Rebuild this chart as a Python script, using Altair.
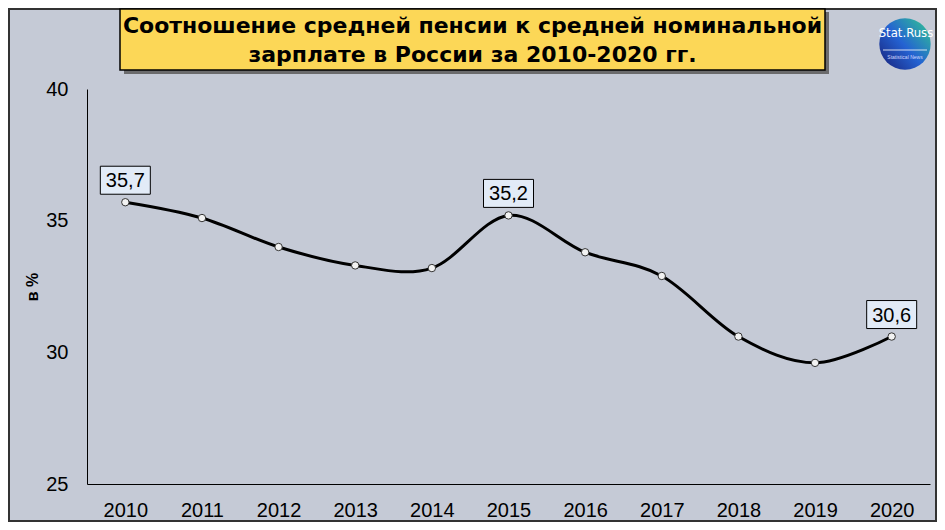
import altair as alt
import pandas as pd

# ---- data ----
years = [2010, 2011, 2012, 2013, 2014, 2015, 2016, 2017, 2018, 2019, 2020]
ratio = [35.7, 35.1, 34.0, 33.3, 33.2, 35.2, 33.8, 32.9, 30.6, 29.6, 30.6]
label_years = [2010, 2015, 2020]
y_ticks = [25, 30, 35, 40]
y_domain = [25, 40]
title_lines = ["Соотношение средней пенсии к средней номинальной",
               "зарплате в России за 2010-2020 гг."]
y_title = "в %"
logo_text = "Stat.Russ"
logo_sub = "Statistical    News"

df = pd.DataFrame({"year": [str(y) for y in years], "value": ratio})
df["label"] = [f"{v:.1f}".replace(".", ",") if y in label_years else "" for y, v in zip(years, ratio)]
lab = df[df["label"] != ""]
dummy = pd.DataFrame({"k": [0]})

FONT = "Liberation Sans"
BG = "#c5cad6"
W, H = 843, 395
PL, PT = 79, 81
TW, TH = 929, 514

x = alt.X("year:O", scale=alt.Scale(type="point", padding=0.5),
          axis=alt.Axis(title=None, labelAngle=0, labelFontSize=20, labelFont=FONT,
                        labelColor="black", ticks=False, labelPadding=16,
                        domainColor="black", domainWidth=1, grid=False))
y = alt.Y("value:Q", scale=alt.Scale(domain=y_domain, nice=False, zero=False),
          axis=alt.Axis(values=y_ticks, title=y_title, titleFontSize=16, titleFont=FONT,
                        titleFontWeight="bold", titleColor="black", titleX=-55, titleY=H / 2,
                        titleAlign="center", titleBaseline="middle",
                        labelFontSize=20, labelFont=FONT, labelColor="black",
                        ticks=False, labelPadding=19, domainColor="black",
                        domainWidth=1, grid=False))

frame = alt.Chart(dummy).mark_rect(filled=False, stroke="#333333", strokeWidth=2).encode(
    x=alt.value(-PL + 1), x2=alt.value(TW - PL - 1),
    y=alt.value(-PT + 1), y2=alt.value(TH - PT - 1))

shadow = alt.Chart(dummy).mark_rect(color="#5a5a5a", opacity=0.85).encode(
    x=alt.value(37), x2=alt.value(742), y=alt.value(-77), y2=alt.value(-15))
box = alt.Chart(dummy).mark_rect(fill="#fcd757", stroke="black", strokeWidth=1.5).encode(
    x=alt.value(33), x2=alt.value(738), y=alt.value(-80), y2=alt.value(-19))
title = alt.Chart(dummy).mark_text(font="DejaVu Sans", fontSize=22, fontWeight="bold", color="black",
                                   align="center", baseline="middle", lineHeight=29).encode(
    x=alt.value(385.5), y=alt.value(-63.5), text=alt.value(title_lines))

grad = alt.LinearGradient(gradient="linear", x1=0.1, y1=1, x2=1, y2=0.2,
                          stops=[alt.GradientStop(color="#1a2680", offset=0),
                                 alt.GradientStop(color="#2462d2", offset=0.5),
                                 alt.GradientStop(color="#2fb79c", offset=1)])
logo = alt.Chart(dummy).mark_point(shape="circle", filled=True, fill=grad, opacity=1,
                                   size=2640, strokeWidth=0).encode(
    x=alt.value(818), y=alt.value(-45))
logo_t = alt.Chart(dummy).mark_text(font="DejaVu Sans Condensed", fontSize=13, color="white",
                                    align="center", baseline="middle").encode(
    x=alt.value(819), y=alt.value(-56), text=alt.value(logo_text))
logo_l = alt.Chart(dummy).mark_rule(color="white", strokeWidth=1, opacity=0.8).encode(
    x=alt.value(796), x2=alt.value(840), y=alt.value(-39))
logo_s = alt.Chart(dummy).mark_text(font=FONT, fontSize=5, color="#cfd8ff",
                                    align="center", baseline="middle").encode(
    x=alt.value(818), y=alt.value(-32), text=alt.value(logo_sub))

line = alt.Chart(df).mark_line(interpolate="cardinal", color="black", strokeWidth=3).encode(x=x, y=y)
pts = alt.Chart(df).mark_point(filled=True, fill="#f2f2f2", stroke="#333333", strokeWidth=1,
                               size=55, opacity=1).encode(x=x, y=y)
lab_box = alt.Chart(lab).mark_point(shape="M-1,-0.56H1V0.56H-1Z", size=2500, filled=True,
                                    fill="#e2ebf7", stroke="black", strokeWidth=1, opacity=1,
                                    yOffset=-22).encode(x=x, y=y)
lab_txt = alt.Chart(lab).mark_text(font=FONT, fontSize=20, color="black", align="center",
                                   baseline="middle", yOffset=-21).encode(x=x, y=y, text="label:N")

chart = alt.layer(frame, shadow, box, title, logo, logo_t, logo_l, logo_s,
                  line, pts, lab_box, lab_txt).properties(
    width=W, height=H,
    autosize=alt.AutoSizeParams(type="none"),
    padding={"left": PL, "top": PT, "right": TW - PL - W, "bottom": TH - PT - H},
    background=BG,
).configure_view(strokeWidth=0)

chart.save("out.html", embed_options={"renderer": "svg", "actions": False})
